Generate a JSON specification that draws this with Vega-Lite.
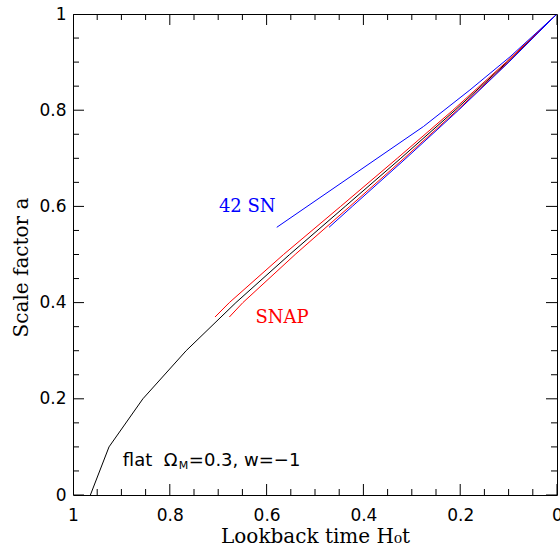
{
  "$schema": "https://vega.github.io/schema/vega-lite/v6.json",
  "width": 484,
  "height": 481,
  "autosize": {"type": "none"},
  "padding": {"left": 73, "top": 14, "right": 3, "bottom": 51},
  "background": "white",
  "config": {
    "view": {"stroke": "black", "strokeWidth": 1},
    "axis": {"domain": false, "grid": false, "ticks": false, "labelColor": "black", "titleColor": "black", "labelFont": "DejaVu Sans", "labelFontSize": 17, "titleFont": "DejaVu Serif", "titleFontSize": 20, "titleFontWeight": "normal", "labelOverlap": false, "labelFlush": false}
  },
  "datasets": {
    "curves": [
      {"s": "model", "t": 0.9641, "a": 0.0},
      {"s": "model", "t": 0.9256, "a": 0.1},
      {"s": "model", "t": 0.8556, "a": 0.2},
      {"s": "model", "t": 0.7662, "a": 0.3},
      {"s": "model", "t": 0.6634, "a": 0.4},
      {"s": "model", "t": 0.5524, "a": 0.5},
      {"s": "model", "t": 0.4376, "a": 0.6},
      {"s": "model", "t": 0.3228, "a": 0.7},
      {"s": "model", "t": 0.2106, "a": 0.8},
      {"s": "model", "t": 0.1027, "a": 0.9},
      {"s": "model", "t": 0.0, "a": 1.0},
      {"s": "snapU", "t": 0.7066, "a": 0.37},
      {"s": "snapU", "t": 0.677, "a": 0.4},
      {"s": "snapU", "t": 0.565, "a": 0.5},
      {"s": "snapU", "t": 0.447, "a": 0.6},
      {"s": "snapU", "t": 0.33, "a": 0.7},
      {"s": "snapU", "t": 0.215, "a": 0.8},
      {"s": "snapU", "t": 0.105, "a": 0.9},
      {"s": "snapU", "t": 0.0, "a": 1.0},
      {"s": "snapL", "t": 0.677, "a": 0.37},
      {"s": "snapL", "t": 0.649, "a": 0.4},
      {"s": "snapL", "t": 0.541, "a": 0.5},
      {"s": "snapL", "t": 0.428, "a": 0.6},
      {"s": "snapL", "t": 0.316, "a": 0.7},
      {"s": "snapL", "t": 0.206, "a": 0.8},
      {"s": "snapL", "t": 0.1005, "a": 0.9},
      {"s": "snapL", "t": 0.0, "a": 1.0},
      {"s": "snU", "t": 0.579, "a": 0.5565},
      {"s": "snU", "t": 0.276, "a": 0.766},
      {"s": "snU", "t": 0.18, "a": 0.842},
      {"s": "snU", "t": 0.097, "a": 0.911},
      {"s": "snU", "t": 0.0, "a": 1.0},
      {"s": "snL", "t": 0.471, "a": 0.5565},
      {"s": "snL", "t": 0.423, "a": 0.6},
      {"s": "snL", "t": 0.312, "a": 0.7},
      {"s": "snL", "t": 0.2035, "a": 0.8},
      {"s": "snL", "t": 0.0993, "a": 0.9},
      {"s": "snL", "t": 0.0, "a": 1.0}
    ],
    "majors": [{"v": 0}, {"v": 0.2}, {"v": 0.4}, {"v": 0.6}, {"v": 0.8}, {"v": 1}],
    "minors": [{"v": 0.05}, {"v": 0.1}, {"v": 0.15}, {"v": 0.25}, {"v": 0.3}, {"v": 0.35}, {"v": 0.45}, {"v": 0.5}, {"v": 0.55}, {"v": 0.65}, {"v": 0.7}, {"v": 0.75}, {"v": 0.85}, {"v": 0.9}, {"v": 0.95}],
    "sn": [{"t": 0.64, "a": 0.599, "label": "42 SN"}],
    "snap": [{"t": 0.568, "a": 0.368, "label": "SNAP"}],
    "note": [{"t": 0.897, "a": 0.06, "p1": "flat\u00a0 Ω", "p2": "M", "p3": "=0.3, w=−1"}]
  },
  "layer": [
    {
      "data": {"name": "curves"},
      "mark": {"type": "line", "strokeWidth": 1, "clip": true},
      "encoding": {
        "x": {"field": "t", "type": "quantitative", "scale": {"domain": [0, 1], "reverse": true, "nice": false, "zero": false},
          "axis": {"orient": "bottom", "values": [0, 0.2, 0.4, 0.6, 0.8, 1], "format": "~g",
            "labelPadding": 12, "title": "Lookback time H₀t", "titleY": 41, "titleBaseline": "middle"}},
        "y": {"field": "a", "type": "quantitative", "scale": {"domain": [0, 1], "nice": false, "zero": false},
          "axis": {"orient": "left", "values": [0, 0.2, 0.4, 0.6, 0.8, 1], "format": "~g",
            "labelPadding": 7, "title": "Scale factor a", "titleX": -52, "titleY": 253, "titleAngle": -90, "titleAlign": "center", "titleBaseline": "middle"}},
        "color": {"field": "s", "type": "nominal", "scale": {"domain": ["model", "snapU", "snapL", "snU", "snL"], "range": ["#000000", "#ff0000", "#ff0000", "#0000ff", "#0000ff"]}, "legend": null},
        "order": {"field": "a", "type": "quantitative"}
      }
    },
    {
      "data": {"name": "majors"},
      "mark": {"type": "tick", "orient": "vertical", "size": 22, "thickness": 1, "color": "black", "opacity": 1, "clip": true},
      "encoding": {"x": {"field": "v", "type": "quantitative", "scale": {"domain": [0, 1], "reverse": true, "nice": false, "zero": false}, "axis": null}, "y": {"datum": 0, "type": "quantitative", "scale": {"domain": [0, 1], "nice": false, "zero": false}, "axis": null}}
    },
    {
      "data": {"name": "majors"},
      "mark": {"type": "tick", "orient": "vertical", "size": 22, "thickness": 1, "color": "black", "opacity": 1, "clip": true},
      "encoding": {"x": {"field": "v", "type": "quantitative", "scale": {"domain": [0, 1], "reverse": true, "nice": false, "zero": false}, "axis": null}, "y": {"datum": 1, "type": "quantitative", "scale": {"domain": [0, 1], "nice": false, "zero": false}, "axis": null}}
    },
    {
      "data": {"name": "majors"},
      "mark": {"type": "tick", "orient": "horizontal", "size": 22, "thickness": 1, "color": "black", "opacity": 1, "clip": true},
      "encoding": {"y": {"field": "v", "type": "quantitative", "scale": {"domain": [0, 1], "nice": false, "zero": false}, "axis": null}, "x": {"datum": 1, "type": "quantitative", "scale": {"domain": [0, 1], "reverse": true, "nice": false, "zero": false}, "axis": null}}
    },
    {
      "data": {"name": "majors"},
      "mark": {"type": "tick", "orient": "horizontal", "size": 22, "thickness": 1, "color": "black", "opacity": 1, "clip": true},
      "encoding": {"y": {"field": "v", "type": "quantitative", "scale": {"domain": [0, 1], "nice": false, "zero": false}, "axis": null}, "x": {"datum": 0, "type": "quantitative", "scale": {"domain": [0, 1], "reverse": true, "nice": false, "zero": false}, "axis": null}}
    },
    {
      "data": {"name": "minors"},
      "mark": {"type": "tick", "orient": "vertical", "size": 12, "thickness": 1, "color": "black", "opacity": 1, "clip": true},
      "encoding": {"x": {"field": "v", "type": "quantitative", "scale": {"domain": [0, 1], "reverse": true, "nice": false, "zero": false}, "axis": null}, "y": {"datum": 0, "type": "quantitative", "scale": {"domain": [0, 1], "nice": false, "zero": false}, "axis": null}}
    },
    {
      "data": {"name": "minors"},
      "mark": {"type": "tick", "orient": "vertical", "size": 12, "thickness": 1, "color": "black", "opacity": 1, "clip": true},
      "encoding": {"x": {"field": "v", "type": "quantitative", "scale": {"domain": [0, 1], "reverse": true, "nice": false, "zero": false}, "axis": null}, "y": {"datum": 1, "type": "quantitative", "scale": {"domain": [0, 1], "nice": false, "zero": false}, "axis": null}}
    },
    {
      "data": {"name": "minors"},
      "mark": {"type": "tick", "orient": "horizontal", "size": 12, "thickness": 1, "color": "black", "opacity": 1, "clip": true},
      "encoding": {"y": {"field": "v", "type": "quantitative", "scale": {"domain": [0, 1], "nice": false, "zero": false}, "axis": null}, "x": {"datum": 1, "type": "quantitative", "scale": {"domain": [0, 1], "reverse": true, "nice": false, "zero": false}, "axis": null}}
    },
    {
      "data": {"name": "minors"},
      "mark": {"type": "tick", "orient": "horizontal", "size": 12, "thickness": 1, "color": "black", "opacity": 1, "clip": true},
      "encoding": {"y": {"field": "v", "type": "quantitative", "scale": {"domain": [0, 1], "nice": false, "zero": false}, "axis": null}, "x": {"datum": 0, "type": "quantitative", "scale": {"domain": [0, 1], "reverse": true, "nice": false, "zero": false}, "axis": null}}
    },
    {
      "data": {"name": "sn"},
      "mark": {"type": "text", "font": "DejaVu Serif", "fontSize": 18, "color": "#0000ff", "align": "center", "baseline": "middle"},
      "encoding": {
        "x": {"field": "t", "type": "quantitative", "scale": {"domain": [0, 1], "reverse": true, "nice": false, "zero": false}, "axis": null},
        "y": {"field": "a", "type": "quantitative", "scale": {"domain": [0, 1], "nice": false, "zero": false}, "axis": null},
        "text": {"field": "label"}
      }
    },
    {
      "data": {"name": "snap"},
      "mark": {"type": "text", "font": "DejaVu Serif", "fontSize": 18, "color": "#ff0000", "align": "center", "baseline": "middle"},
      "encoding": {
        "x": {"field": "t", "type": "quantitative", "scale": {"domain": [0, 1], "reverse": true, "nice": false, "zero": false}, "axis": null},
        "y": {"field": "a", "type": "quantitative", "scale": {"domain": [0, 1], "nice": false, "zero": false}, "axis": null},
        "text": {"field": "label"}
      }
    },
    {
      "data": {"name": "note"},
      "mark": {"type": "text", "font": "DejaVu Sans", "fontSize": 18, "color": "black", "align": "left", "baseline": "alphabetic"},
      "encoding": {
        "x": {"field": "t", "type": "quantitative", "scale": {"domain": [0, 1], "reverse": true, "nice": false, "zero": false}, "axis": null},
        "y": {"field": "a", "type": "quantitative", "scale": {"domain": [0, 1], "nice": false, "zero": false}, "axis": null},
        "text": {"field": "p1"}
      }
    },
    {
      "data": {"name": "note"},
      "mark": {"type": "text", "font": "DejaVu Sans", "fontSize": 11, "color": "black", "align": "left", "baseline": "alphabetic", "dx": 56, "dy": 3},
      "encoding": {
        "x": {"field": "t", "type": "quantitative", "scale": {"domain": [0, 1], "reverse": true, "nice": false, "zero": false}, "axis": null},
        "y": {"field": "a", "type": "quantitative", "scale": {"domain": [0, 1], "nice": false, "zero": false}, "axis": null},
        "text": {"field": "p2"}
      }
    },
    {
      "data": {"name": "note"},
      "mark": {"type": "text", "font": "DejaVu Sans", "fontSize": 18, "color": "black", "align": "left", "baseline": "alphabetic", "dx": 66},
      "encoding": {
        "x": {"field": "t", "type": "quantitative", "scale": {"domain": [0, 1], "reverse": true, "nice": false, "zero": false}, "axis": null},
        "y": {"field": "a", "type": "quantitative", "scale": {"domain": [0, 1], "nice": false, "zero": false}, "axis": null},
        "text": {"field": "p3"}
      }
    }
  ],
  "resolve": {"scale": {"x": "independent", "y": "independent"}, "axis": {"x": "independent", "y": "independent"}}
}
